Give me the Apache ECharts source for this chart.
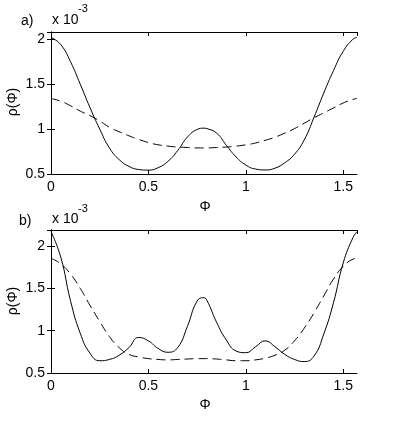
<!DOCTYPE html>
<html>
<head>
<meta charset="utf-8">
<script src="https://cdn.jsdelivr.net/npm/echarts@6/dist/echarts.min.js"></script>
<style>
  html, body { margin: 0; padding: 0; background: #fff; }
  #chart { width: 395px; height: 421px; }
</style>
</head>
<body>
<div id="chart"></div>
<script>
// phi sample points (0 .. pi/2)
const phi = [0, 0.05, 0.1, 0.15, 0.2, 0.25, 0.3, 0.35, 0.4, 0.45, 0.5, 0.55, 0.6, 0.65, 0.7, 0.75, 0.785,
  0.8, 0.85, 0.9, 0.95, 1.0, 1.05, 1.1, 1.15, 1.2, 1.25, 1.3, 1.35, 1.4, 1.45, 1.5, 1.55, 1.5708];

// panel a), values in units of 1e-3
const solidA = [2.02, 1.94, 1.75, 1.50, 1.24, 1.00, 0.79, 0.66, 0.585, 0.55, 0.543, 0.57, 0.64, 0.76, 0.91, 0.995, 1.01,
  1.005, 0.955, 0.82, 0.69, 0.60, 0.555, 0.545, 0.565, 0.625, 0.72, 0.88, 1.13, 1.40, 1.65, 1.865, 2.00, 2.02];
const dashA = [1.34, 1.31, 1.26, 1.20, 1.15, 1.09, 1.02, 0.97, 0.925, 0.885, 0.85, 0.825, 0.81, 0.80, 0.795, 0.79, 0.79,
  0.79, 0.795, 0.80, 0.81, 0.825, 0.845, 0.875, 0.91, 0.955, 1.005, 1.065, 1.125, 1.18, 1.235, 1.29, 1.33, 1.34];

// panel b)
const solidB = [2.17, 1.87, 1.355, 0.97, 0.735, 0.645, 0.66, 0.71, 0.80, 0.92, 0.88, 0.79, 0.745, 0.80, 1.05, 1.35, 1.39,
  1.36, 1.10, 0.89, 0.76, 0.74, 0.81, 0.88, 0.81, 0.72, 0.66, 0.635, 0.70, 0.96, 1.33, 1.80, 2.10, 2.17];
const dashB = [1.855, 1.79, 1.67, 1.50, 1.30, 1.11, 0.93, 0.80, 0.72, 0.69, 0.67, 0.66, 0.655, 0.66, 0.665, 0.67, 0.67,
  0.67, 0.665, 0.655, 0.645, 0.645, 0.655, 0.675, 0.71, 0.77, 0.88, 1.03, 1.21, 1.41, 1.61, 1.76, 1.845, 1.855];

const yMaxA = 2.08;
const yMaxB = 2.19;

const font = 'Liberation Sans, Arial, sans-serif';

function pairs(ys) {
  return phi.map((x, i) => [x, ys[i]]);
}

const lineAxis = {lineStyle: {color: '#000', width: 1}};
const tick = {inside: true, length: 4, lineStyle: {color: '#000'}};
const lbl = {color: '#000', fontSize: 14, fontFamily: font, margin: 6, showMaxLabel: false};

function xAxes(g) {
  return [
    {gridIndex: g, type: 'value', position: 'bottom', min: 0, max: 1.5708, interval: 0.5,
      axisLine: lineAxis, axisTick: tick, axisLabel: lbl, splitLine: {show: false}},
    {gridIndex: g, type: 'value', position: 'top', min: 0, max: 1.5708, interval: 0.5,
      axisLine: lineAxis, axisTick: tick, axisLabel: {show: false}, splitLine: {show: false}}
  ];
}
function yAxes(g, max) {
  return [
    {gridIndex: g, type: 'value', position: 'left', min: 0.5, max: max, interval: 0.5,
      axisLine: lineAxis, axisTick: tick, axisLabel: lbl, splitLine: {show: false}},
    {gridIndex: g, type: 'value', position: 'right', min: 0.5, max: max, interval: 0.5,
      axisLine: lineAxis, axisTick: tick, axisLabel: {show: false}, splitLine: {show: false}}
  ];
}
function line(data, xi, yi, dashed) {
  return {
    type: 'line', xAxisIndex: xi, yAxisIndex: yi, data: pairs(data),
    smooth: true, showSymbol: false, animation: false,
    lineStyle: {color: '#000', width: 1, type: dashed ? [9, 5] : 'solid'}
  };
}
function txt(x, y, s, size, opts) {
  return Object.assign({
    type: 'text', x: x, y: y,
    style: {text: s, fill: '#000', font: size + 'px ' + font,
      align: 'left', verticalAlign: 'middle', textAlign: 'left', textVerticalAlign: 'middle'}
  }, opts || {});
}
function ctxt(x, y, s, size, rot) {
  return {
    type: 'text', x: x, y: y, rotation: rot || 0,
    style: {text: s, fill: '#000', font: size + 'px ' + font,
      align: 'center', verticalAlign: 'middle', textAlign: 'center', textVerticalAlign: 'middle'}
  };
}

const chart = echarts.init(document.getElementById('chart'));
chart.setOption({
  backgroundColor: '#fff',
  animation: false,
  grid: [
    {left: 51, top: 32, width: 306, height: 142},
    {left: 51, top: 230, width: 306, height: 143}
  ],
  xAxis: [...xAxes(0), ...xAxes(1)],
  yAxis: [...yAxes(0, yMaxA), ...yAxes(1, yMaxB)],
  series: [
    line(solidA, 0, 0, false),
    line(dashA, 0, 0, true),
    line(solidB, 2, 2, false),
    line(dashB, 2, 2, true)
  ],
  graphic: [
    txt(21, 21, 'a)', 14),
    txt(52, 20, 'x 10', 14),
    txt(78, 9, '-3', 11),
    ctxt(13, 102, 'ρ(Φ)', 14, Math.PI / 2),
    ctxt(205, 207, 'Φ', 14),
    txt(19, 221, 'b)', 14),
    txt(52, 219, 'x 10', 14),
    txt(78, 209, '-3', 11),
    ctxt(13, 301, 'ρ(Φ)', 14, Math.PI / 2),
    ctxt(205, 405, 'Φ', 14)
  ]
});
</script>
</body>
</html>
